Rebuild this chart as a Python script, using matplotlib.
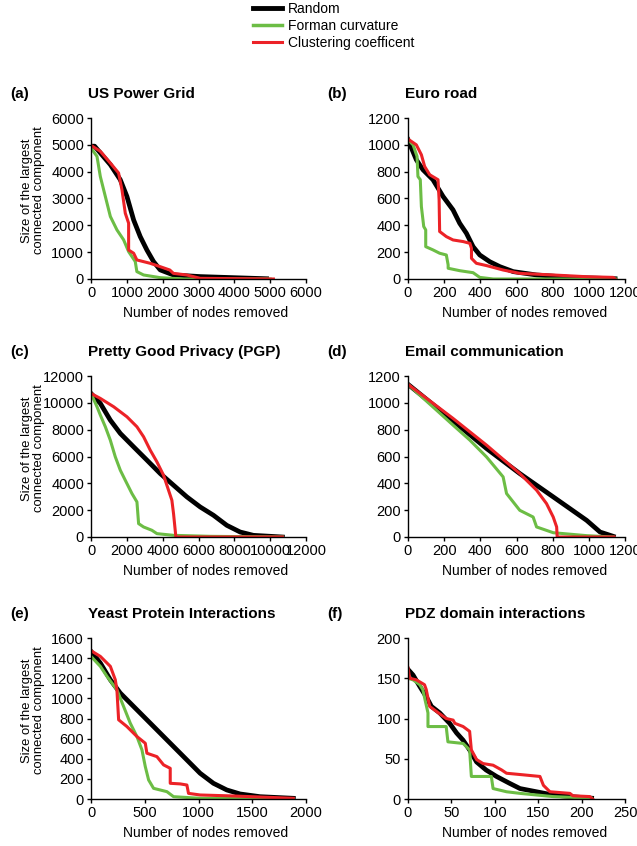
import matplotlib
matplotlib.use("Agg")
from matplotlib import pyplot as plt

plt.rcParams["font.family"] = ["Liberation Sans", "DejaVu Sans"]

BLACK = "#000000"
GREEN = "#6cbd45"
RED = "#ec2227"

# (a) US Power Grid
grid_rand_x = [0, 100, 540, 817, 1003, 1190, 1374, 1560, 1745, 1930, 2300, 3050, 3970, 4900]
grid_rand_y = [4950, 4950, 4260, 3700, 3075, 2200, 1580, 1080, 650, 340, 150, 90, 50, 10]
grid_form_x = [0, 167, 260, 400, 540, 724, 910, 1050, 1235, 1280, 1467, 1930, 2580, 5000]
grid_form_y = [4880, 4570, 3820, 3075, 2330, 1830, 1460, 1020, 650, 275, 150, 50, 0, 0]
grid_clus_x = [0, 260, 540, 770, 864, 957, 1050, 1050, 1190, 1280, 1650, 1930, 2200, 2300, 2670, 3050, 5090]
grid_clus_y = [4980, 4760, 4320, 3950, 3325, 2450, 2080, 1080, 960, 710, 585, 460, 335, 210, 150, 25, 0]

# (b) Euro road
road_rand_x = [0, 46, 83, 138, 194, 249, 286, 323, 360, 397, 452, 508, 582, 711, 895, 1145]
road_rand_y = [1038, 889, 814, 740, 615, 515, 415, 341, 241, 179, 129, 92, 55, 30, 12, 2]
road_form_x = [0, 28, 50, 55, 68, 74, 87, 98, 98, 138, 175, 212, 222, 222, 286, 360, 397, 471, 1150]
road_form_y = [1038, 1000, 914, 764, 740, 540, 391, 366, 241, 217, 192, 179, 105, 80, 62, 47, 12, 0, 0]
road_clus_x = [0, 46, 74, 92, 120, 166, 172, 175, 212, 249, 305, 342, 351, 351, 378, 434, 526, 618, 803, 988, 1135, 1145]
road_clus_y = [1043, 1000, 926, 839, 777, 740, 590, 354, 316, 291, 279, 266, 229, 154, 117, 100, 67, 42, 30, 17, 12, 0]

# (c) Pretty Good Privacy
pgp_rand_x = [0, 520, 1077, 1635, 2378, 3121, 3864, 4607, 5350, 6093, 6836, 7580, 8322, 9065, 10680]
pgp_rand_y = [10700, 9960, 8710, 7720, 6720, 5730, 4730, 3860, 2990, 2240, 1620, 870, 373, 124, 0]
pgp_form_x = [0, 334, 520, 800, 1077, 1356, 1635, 1913, 2285, 2564, 2600, 2657, 2935, 3400, 3680, 4600, 6650, 10680]
pgp_form_y = [10700, 9710, 9090, 8215, 7220, 5975, 4980, 4230, 3240, 2614, 1990, 996, 747, 500, 250, 125, 50, 0]
pgp_clus_x = [0, 520, 1263, 2006, 2564, 2935, 3307, 3679, 4050, 4328, 4514, 4607, 4700, 4737, 10680]
pgp_clus_y = [10700, 10330, 9710, 8960, 8215, 7470, 6470, 5600, 4600, 3485, 2740, 1740, 500, 0, 0]

# (d) Email communication
mail_rand_x = [0, 249, 434, 618, 803, 988, 1062, 1135]
mail_rand_y = [1138, 866, 660, 473, 299, 124, 37, 5]
mail_form_x = [0, 65, 157, 249, 342, 434, 526, 545, 618, 692, 711, 803, 988, 1133]
mail_form_y = [1138, 1058, 946, 834, 722, 597, 448, 324, 199, 149, 75, 32, 10, 0]
mail_clus_x = [0, 249, 434, 618, 711, 766, 803, 822, 825, 1140]
mail_clus_y = [1138, 884, 685, 473, 349, 249, 149, 75, 0, 0]

# (e) Yeast protein interactions
yeast_rand_x = [0, 87, 180, 272, 396, 520, 644, 768, 892, 1015, 1139, 1263, 1387, 1573, 1882]
yeast_rand_y = [1467, 1351, 1185, 1053, 920, 787, 654, 521, 388, 256, 156, 90, 50, 23, 7]
yeast_form_x = [0, 87, 149, 241, 303, 365, 427, 474, 505, 536, 582, 706, 768, 1015, 1880]
yeast_form_y = [1417, 1318, 1218, 1085, 920, 754, 621, 488, 322, 189, 106, 73, 23, 7, 0]
yeast_clus_x = [0, 87, 180, 226, 241, 257, 334, 427, 505, 520, 613, 675, 737, 737, 830, 892, 907, 1015, 1325, 1882]
yeast_clus_y = [1474, 1417, 1318, 1185, 1085, 787, 720, 621, 554, 455, 421, 339, 305, 156, 150, 139, 56, 40, 30, 7]

# (f) PDZ domain interactions
pdz_rand_x = [0, 5.8, 13.5, 21, 27, 36.5, 48, 56, 63.5, 71, 79, 90, 102, 117, 129, 148, 167, 186.5, 211.5]
pdz_rand_y = [161, 154, 140, 127, 115, 107, 94, 82, 73, 61, 46, 36, 28, 19.5, 13, 9, 5, 3, 1]
pdz_form_x = [0, 5.8, 13.5, 17, 23, 23, 44, 46, 63.5, 71, 73, 96, 98, 113.5, 129, 148, 167, 211.5]
pdz_form_y = [150, 148, 142, 136, 107, 90, 90, 71, 69, 61, 28, 28, 13, 9, 7, 5, 3, 1]
pdz_clus_x = [0, 2, 9.6, 19, 21, 25, 35, 44, 52, 54, 63.5, 71, 73, 79, 86.5, 98, 108, 113.5, 133, 152, 156,
              163.5, 186.5, 190, 209.6, 212.7]
pdz_clus_y = [163, 150, 148, 142, 136, 115, 107, 100, 98, 94, 90, 84, 61, 49, 44, 42, 36, 32, 30, 28, 17,
              9, 7, 4, 3, 0]

W, H = 637, 846
fig = plt.figure(figsize=(W / 100, H / 100), dpi=100)


def make_axes(left, top, right, bottom):
    return fig.add_axes([left / W, 1 - bottom / H, (right - left) / W, (bottom - top) / H])


panels = [
    # tag, title, box (l, t, r, b), xmax, xstep, ymax, ystep, series, left column
    ("(a)", "US Power Grid", (91, 118, 306, 279), 6000, 1000, 6000, 1000,
     (grid_rand_x, grid_rand_y, grid_form_x, grid_form_y, grid_clus_x, grid_clus_y), True),
    ("(b)", "Euro road", (408, 118, 625, 279), 1200, 200, 1200, 200,
     (road_rand_x, road_rand_y, road_form_x, road_form_y, road_clus_x, road_clus_y), False),
    ("(c)", "Pretty Good Privacy (PGP)", (91, 376, 306, 537), 12000, 2000, 12000, 2000,
     (pgp_rand_x, pgp_rand_y, pgp_form_x, pgp_form_y, pgp_clus_x, pgp_clus_y), True),
    ("(d)", "Email communication", (408, 376, 625, 537), 1200, 200, 1200, 200,
     (mail_rand_x, mail_rand_y, mail_form_x, mail_form_y, mail_clus_x, mail_clus_y), False),
    ("(e)", "Yeast Protein Interactions", (91, 638, 306, 799), 2000, 500, 1600, 200,
     (yeast_rand_x, yeast_rand_y, yeast_form_x, yeast_form_y, yeast_clus_x, yeast_clus_y), True),
    ("(f)", "PDZ domain interactions", (408, 638, 625, 799), 250, 50, 200, 50,
     (pdz_rand_x, pdz_rand_y, pdz_form_x, pdz_form_y, pdz_clus_x, pdz_clus_y), False),
]

for tag, title, box, xmax, xstep, ymax, ystep, series, left_col in panels:
    ax = make_axes(*box)
    rx, ry, fx, fy, cx, cy = series
    ax.plot(rx, ry, color=BLACK, lw=3.4, solid_joinstyle="round")
    ax.plot(fx, fy, color=GREEN, lw=2.2)
    ax.plot(cx, cy, color=RED, lw=2.2)

    ax.set_xlim(0, xmax)
    ax.set_ylim(0, ymax)
    ax.set_xticks(range(0, xmax + 1, xstep))
    ax.set_yticks(range(0, ymax + 1, ystep))
    ax.tick_params(direction="out", length=3, width=1, labelsize=10.5, pad=2)
    for s in ("top", "right"):
        ax.spines[s].set_visible(False)
    for s in ("left", "bottom"):
        ax.spines[s].set_linewidth(1)

    ax.set_xlabel("Number of nodes removed", fontsize=10)
    ax.xaxis.set_label_coords(0.535, -0.165)
    if left_col:
        ax.set_ylabel("Size of the largest\nconnected component", fontsize=9.4, linespacing=0.95)
        ax.yaxis.set_label_coords(-0.215, 0.55)

    l, t = box[0], box[1]
    fig.text((l - 81) / W, 1 - (t - 24) / H, tag, fontsize=11, fontweight="bold", va="center")
    fig.text((l - 3) / W, 1 - (t - 24) / H, title, fontsize=11, fontweight="bold", va="center")

fig.legend(
    [plt.Line2D([], [], color=BLACK, lw=3.5), plt.Line2D([], [], color=GREEN, lw=2.5),
     plt.Line2D([], [], color=RED, lw=2.2)],
    ["Random", "Forman curvature", "Clustering coefficent"],
    loc="upper left", bbox_to_anchor=(246 / W, 1 + 5 / H), frameon=False,
    fontsize=10, handlelength=2.1, handletextpad=0.4, labelspacing=0.2, borderpad=0,
)

fig.savefig("out.png", dpi=100)
